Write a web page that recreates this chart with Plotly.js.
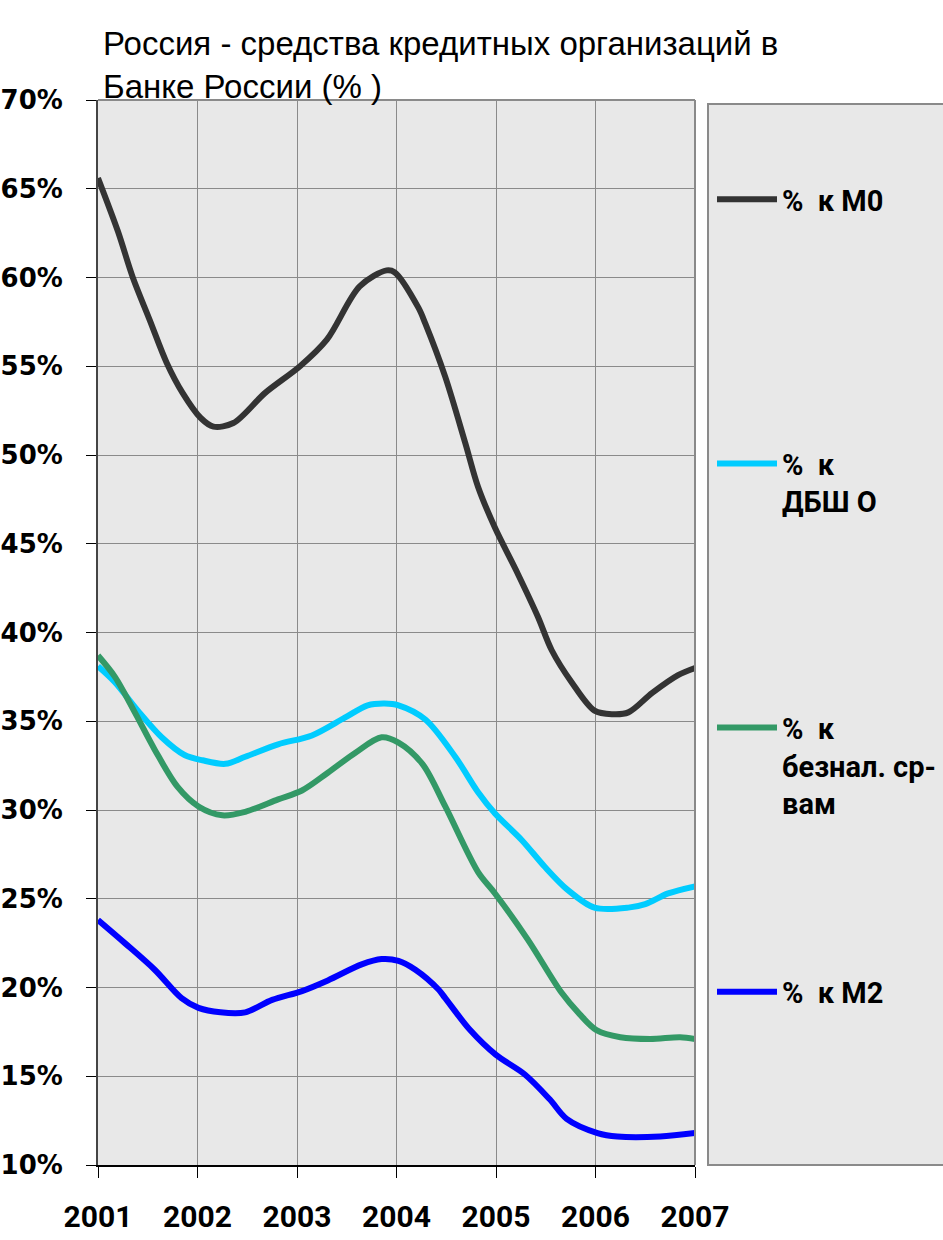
<!DOCTYPE html>
<html>
<head>
<meta charset="utf-8">
<script src="https://cdn.plot.ly/plotly-3.0.1.min.js"></script>
<style>html,body{margin:0;padding:0;background:#fff;}</style>
</head>
<body>
<div id="chart" style="width:943px;height:1240px;"></div>
<script>
// ---- data (percent values) ----
const yearTicks = [2001, 2002, 2003, 2004, 2005, 2006, 2007];
const yearLabels = ["2001", "2002", "2003", "2004", "2005", "2006", "2007"];

const seriesNames = ["%  к М0", "%  к<br>ДБШ О", "%  к<br>безнал. ср-<br>вам", "%  к М2"];

const m0X = [2001.00, 2001.20, 2001.35, 2001.52, 2001.69, 2001.85, 2002.03, 2002.16, 2002.36, 2002.68, 2003.03, 2003.30, 2003.63, 2003.90, 2003.98, 2004.22, 2004.29, 2004.49, 2004.69, 2004.82, 2004.99, 2005.22, 2005.42, 2005.56, 2005.76, 2005.99, 2006.17, 2006.33, 2006.57, 2006.83, 2007.00];
const m0Y = [65.6, 62.6, 60.0, 57.6, 55.2, 53.5, 52.1, 51.6, 51.8, 53.5, 55.0, 56.5, 59.5, 60.4, 60.3, 58.3, 57.4, 54.4, 50.7, 48.2, 45.9, 43.3, 40.9, 39.0, 37.2, 35.6, 35.4, 35.5, 36.6, 37.6, 38.0];

const dbshoX = [2001.00, 2001.17, 2001.40, 2001.64, 2001.87, 2002.05, 2002.28, 2002.48, 2002.81, 2003.15, 2003.48, 2003.71, 2003.88, 2004.02, 2004.29, 2004.59, 2004.82, 2004.99, 2005.26, 2005.49, 2005.72, 2005.99, 2006.33, 2006.50, 2006.73, 2007.00];
const dbshoY = [38.1, 37.2, 35.6, 34.1, 33.1, 32.8, 32.6, 33.0, 33.7, 34.2, 35.2, 35.9, 36.0, 35.9, 35.1, 33.0, 31.0, 29.8, 28.3, 26.8, 25.5, 24.5, 24.5, 24.7, 25.3, 25.7];

const beznalX = [2001.00, 2001.17, 2001.37, 2001.57, 2001.80, 2002.01, 2002.25, 2002.48, 2002.81, 2003.05, 2003.31, 2003.58, 2003.85, 2004.02, 2004.26, 2004.49, 2004.82, 2004.99, 2005.32, 2005.66, 2005.84, 2006.01, 2006.25, 2006.55, 2006.85, 2007.00];
const beznalY = [38.7, 37.5, 35.5, 33.4, 31.3, 30.2, 29.7, 29.9, 30.6, 31.1, 32.1, 33.2, 34.1, 33.8, 32.6, 30.2, 26.5, 25.3, 22.7, 19.7, 18.5, 17.6, 17.2, 17.1, 17.2, 17.1];

const m2X = [2001.00, 2001.27, 2001.57, 2001.84, 2002.01, 2002.23, 2002.48, 2002.75, 2003.05, 2003.31, 2003.65, 2003.85, 2004.02, 2004.19, 2004.42, 2004.49, 2004.74, 2005.00, 2005.29, 2005.54, 2005.71, 2006.02, 2006.22, 2006.65, 2007.00];
const m2Y = [23.8, 22.5, 21.0, 19.4, 18.85, 18.6, 18.6, 19.3, 19.8, 20.4, 21.3, 21.6, 21.5, 21.0, 19.9, 19.4, 17.6, 16.2, 15.1, 13.7, 12.6, 11.8, 11.6, 11.6, 11.8];

const seriesColors = ["#333333", "#00ccff", "#339966", "#0000ff"];

const PAD = "<br>\u00a0";
const legendLabels = [seriesNames[0] + PAD + PAD, seriesNames[1] + PAD, seriesNames[2], seriesNames[3] + PAD + PAD];

const xs = [m0X, dbshoX, beznalX, m2X];
const ys = [m0Y, dbshoY, beznalY, m2Y];

const traces = xs.map((x, i) => ({
  x: x, y: ys[i], type: "scatter", mode: "lines",
  name: legendLabels[i], legendgroup: "g" + i,
  line: {color: seriesColors[i], width: 6, shape: "spline", smoothing: 0.9},
  hoverinfo: "skip"
}));

const layout = {
  width: 943, height: 1240,
  margin: {l: 98, r: 248, t: 100, b: 75, autoexpand: false},
  paper_bgcolor: "#ffffff",
  plot_bgcolor: "#e8e8e8",
  showlegend: true,
  title: {
    text: "Россия - средства кредитных организаций в<br>Банке России (% )",
    font: {family: "Liberation Sans Narrow, Liberation Sans, sans-serif", size: 33, color: "#000"},
    x: 103/943, xanchor: "left", xref: "container",
    y: 1 - 55/1240, yanchor: "top", yref: "container"
  },
  xaxis: {
    range: [2001, 2007],
    tickvals: yearTicks, ticktext: yearLabels,
    showgrid: true, gridcolor: "#8a8a8a", gridwidth: 1,
    showline: true, linecolor: "#000", linewidth: 2,
    ticks: "outside", ticklen: 11, tickcolor: "#000", tickwidth: 1,
    ticklabelstandoff: 13,
    tickfont: {family: "Roboto, Liberation Sans, sans-serif", size: 30, color: "#000", weight: "bold"},
    zeroline: false, fixedrange: true
  },
  yaxis: {
    range: [10, 70], dtick: 5, tick0: 10, ticksuffix: "%",
    showgrid: true, gridcolor: "#8a8a8a", gridwidth: 1,
    showline: true, linecolor: "#444", linewidth: 2,
    ticks: "outside", ticklen: 10, tickcolor: "#000", tickwidth: 1,
    ticklabelstandoff: 18,
    tickfont: {family: "DejaVu Sans, sans-serif", size: 26, color: "#000", weight: "bold"},
    zeroline: false, fixedrange: true
  },
  legend: {
    x: (712 - 98) / 597, xanchor: "left",
    y: (1165 - 174) / 1065, yanchor: "top",
    bgcolor: "rgba(0,0,0,0)", borderwidth: 0,
    traceorder: "grouped", tracegroupgap: 148, valign: "top",
    itemwidth: 60,
    font: {family: "Roboto, sans-serif", size: 29, color: "#000", weight: "bold"}
  },
  shapes: [
    {type: "rect", xref: "paper", yref: "paper", x0: (708 - 98) / 597, x1: 1.5, y0: 0, y1: (1165 - 104) / 1065,
     fillcolor: "#e8e8e8", line: {color: "#8a8a8a", width: 2}, layer: "below"},
    {type: "line", xref: "paper", yref: "paper", x0: 0, x1: 1, y0: 1, y1: 1, line: {color: "#8a8a8a", width: 2}},
    {type: "line", xref: "paper", yref: "paper", x0: 1, x1: 1, y0: 0, y1: 1, line: {color: "#8a8a8a", width: 2}}
  ]
};

Plotly.newPlot("chart", traces, layout, {displayModeBar: false, staticPlot: true});
</script>
</body>
</html>
